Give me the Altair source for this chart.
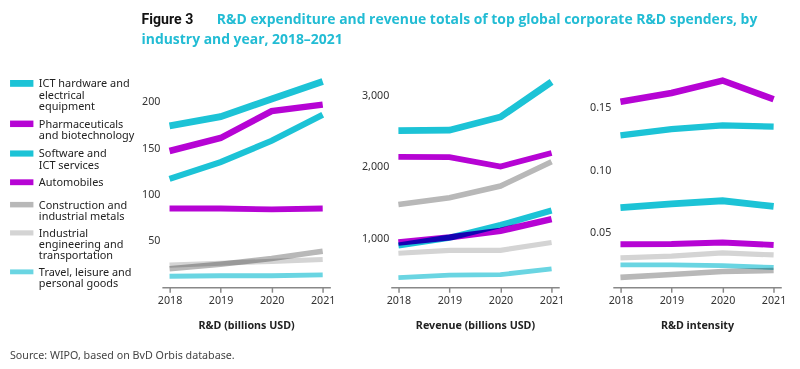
import altair as alt
import pandas as pd

years = ["2018", "2019", "2020", "2021"]

industries = [
    "ICT hardware and electrical equipment",
    "Pharmaceuticals and biotechnology",
    "Software and ICT services",
    "Automobiles",
    "Construction and industrial metals",
    "Industrial engineering and transportation",
    "Travel, leisure and personal goods",
]
label_lines = [
    ["ICT hardware and", "electrical", "equipment"],
    ["Pharmaceuticals", "and biotechnology"],
    ["Software and", "ICT services"],
    ["Automobiles"],
    ["Construction and", "industrial metals"],
    ["Industrial", "engineering and", "transportation"],
    ["Travel, leisure and", "personal goods"],
]
colors = ["#1cc3d6", "#b604d4", "#1cc3d6", "#b604d4", "#b8b8b8", "#d4d4d4", "#6ad5e2"]
widths = [7, 5, 3.5, 2.5, 2, 1.5, 1.5]

# R&D (billions USD)
rd = {
    "ICT hardware and electrical equipment": [174, 184, 203, 222],
    "Pharmaceuticals and biotechnology": [147, 161, 190, 197],
    "Software and ICT services": [117, 135, 158, 186],
    "Automobiles": [85, 85, 84, 85],
    "Construction and industrial metals": [20, 25, 31, 39],
    "Industrial engineering and transportation": [24, 26, 28, 30],
    "Travel, leisure and personal goods": [12, 12.5, 12.5, 13.5],
}
# Revenue (billions USD)
revenue = {
    "ICT hardware and electrical equipment": [2510, 2515, 2700, 3190],
    "Pharmaceuticals and biotechnology": [946, 1018, 1109, 1272],
    "Software and ICT services": [905, 1014, 1190, 1394],
    "Automobiles": [2143, 2140, 2007, 2197],
    "Construction and industrial metals": [1476, 1571, 1735, 2075],
    "Industrial engineering and transportation": [796, 837, 837, 946],
    "Travel, leisure and personal goods": [456, 490, 497, 578],
}
# R&D intensity
intensity = {
    "ICT hardware and electrical equipment": [0.070, 0.073, 0.0755, 0.071],
    "Pharmaceuticals and biotechnology": [0.155, 0.162, 0.172, 0.157],
    "Software and ICT services": [0.128, 0.133, 0.136, 0.135],
    "Automobiles": [0.0406, 0.0408, 0.042, 0.040],
    "Construction and industrial metals": [0.014, 0.0164, 0.0188, 0.0195],
    "Industrial engineering and transportation": [0.0297, 0.031, 0.0336, 0.032],
    "Travel, leisure and personal goods": [0.024, 0.024, 0.0234, 0.0219],
}

def frame(d):
    rows = []
    for ind in industries:
        for y, v in zip(years, d[ind]):
            rows.append({"industry": ind, "year": y, "value": v})
    return pd.DataFrame(rows)

label_expr = " : ".join(
    f"datum.label == '{ind}' ? {lines!r}" for ind, lines in zip(industries, label_lines)
) + " : datum.label"

FONT = "Noto Sans"
TFONT = "Open Sans"

def panel(df, title, domain, ticks, fmt):
    leg = alt.Legend(title=None, labelExpr=label_expr)
    return alt.Chart(df).mark_line(blend="multiply").encode(
        x=alt.X("year:O", scale=alt.Scale(type="point", padding=0.15),
                axis=alt.Axis(title=title, labelAngle=0)),
        y=alt.Y("value:Q", scale=alt.Scale(domain=domain, nice=False, zero=False),
                axis=alt.Axis(title=None, values=ticks, format=fmt)),
        color=alt.Color("industry:N", scale=alt.Scale(domain=industries, range=colors), legend=leg),
        strokeWidth=alt.StrokeWidth("industry:N", scale=alt.Scale(domain=industries, range=widths), legend=leg),
        detail="industry:N",
    ).properties(width=173, height=220)

p1 = panel(frame(rd), "R&D (billions USD)", [0, 231], [50, 100, 150, 200], "d")
p2 = panel(frame(revenue), "Revenue (billions USD)", [320, 3313], [1000, 2000, 3000], ",d")
p3 = panel(frame(intensity), "R&D intensity", [0.006, 0.178], [0.05, 0.10, 0.15], ".2f")

indent = "\u200b" + "\u2003" * 5 + "\u2009\u2005"

inner = alt.hconcat(p1, p2, p3, spacing=24).properties(
    title=alt.TitleParams(
        text="Figure 3",
        subtitle=[indent + "R&D expenditure and revenue totals of top global corporate R&D spenders, by",
                  "industry and year, 2018\u20132021"],
        anchor="start", color="#111111", font="Roboto", fontSize=14.5, fontWeight="bold",
        subtitleColor="#22bcd4", subtitleFont=TFONT, subtitleFontSize=14.3,
        subtitleFontWeight="bold", subtitlePadding=-14.5, subtitleLineHeight=20,
        offset=20,
    )
)

chart = alt.vconcat(inner).properties(
    title=alt.TitleParams(
        text="Source: WIPO, based on BvD Orbis database.",
        orient="bottom", anchor="start", color="#444444", font=FONT,
        fontSize=11, fontWeight="normal", offset=21,
    ),
    padding={"left": 2, "top": 0, "right": 4, "bottom": 2},
).configure(
    style={"guide-label": {"lineHeight": 11.5}}
).configure_view(stroke=None).configure_axis(
    labelFont=FONT, titleFont=FONT, labelFontSize=11, labelColor="#333333",
    titleFontSize=11, titleFontWeight="bold", titleColor="#222222",
    grid=False,
).configure_axisX(
    domainColor="#888888", domainWidth=1.5, tickColor="#888888", tickWidth=1.5,
    tickSize=5, labelPadding=3, titlePadding=14,
).configure_axisY(
    domain=False, ticks=False, labelPadding=2,
).configure_legend(
    orient="left", symbolType="M-6,2.5H6", symbolSize=16, symbolOffset=6.5,
    labelFont=FONT, labelFontSize=11.2, labelColor="#222222", labelOffset=12,
    labelBaseline="top", rowPadding=-1.5, offset=7, padding=0,
)

chart.save("out.html", embed_options={"renderer": "svg", "actions": False})
